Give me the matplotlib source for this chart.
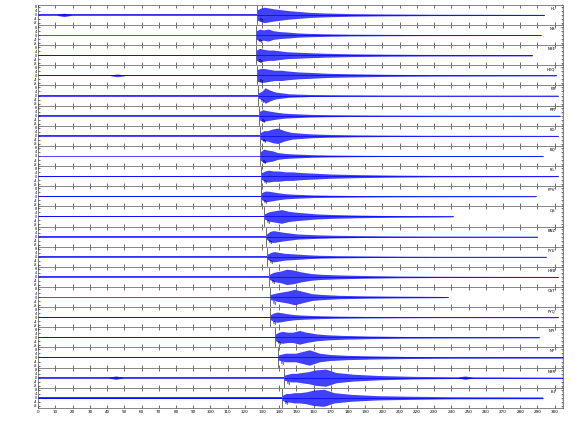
"""Record section: 20 vertical-component traces aligned on origin time."""
import numpy as np
import matplotlib.pyplot as plt

# --- data ---
stations = ["HL", "NB", "NBE", "HYQ", "PB", "RPI", "BG", "BQ", "FIL", "PPV",
            "QS", "BNZ", "PYU", "HBB", "CST", "PYQ", "NPI", "NP", "NBR", "ISI"]
onset = [127.3, 126.7, 126.7, 127.3, 127.9, 128.5, 129.1, 129.1, 129.7, 129.7,
         131.4, 132.6, 133.1, 134.3, 134.9, 134.9, 137.8, 139.5, 143.0, 141.9]
end_time = [294, 292, 287, 301, 302, 303, 302, 293, 302, 289,
            241, 290, 295, 302, 238, 302, 291, 305, 305, 293]
noise = [0.6, 0.5, 0.8, 0.6, 0.5, 0.5, 0.5, 0.5, 0.6, 0.5,
         0.5, 0.5, 0.5, 0.5, 0.5, 0.6, 0.6, 0.8, 0.6, 1.0]

# envelope after onset (seconds after onset / amplitude)
env_rel = [0, 2, 4, 7, 10, 14, 18, 24, 30, 40, 55, 75, 100]
env_amp = [
    [6, 8, 9, 8, 7, 6, 5, 4, 3, 2.2, 1.5, 1.1, 0.8],
    [5, 7, 6, 7, 5, 4, 3.5, 2.5, 2, 1.5, 1, 0.8, 0.6],
    [6, 8, 7, 6, 6, 5, 4, 3.5, 3, 2.3, 1.6, 1.2, 0.9],
    [7, 8, 8, 7, 6, 6, 5, 4, 3.5, 2.5, 1.8, 1.2, 0.9],
    [3, 5, 9, 6, 4, 3, 2, 1.6, 1.2, 1, 0.8, 0.6, 0.5],
    [5, 7, 6, 5, 4, 3, 2.5, 2, 1.5, 1.2, 0.9, 0.7, 0.6],
    [4, 6, 6, 8, 9, 6, 4, 3, 2.2, 1.6, 1.1, 0.8, 0.6],
    [5, 8, 7, 6, 4, 3, 2.5, 2, 1.5, 1.1, 0.8, 0.6, 0.5],
    [4, 6, 7, 6, 6, 5, 5, 4, 3.5, 2.5, 1.8, 1.2, 0.8],
    [4, 6, 6, 5, 4, 3, 2.5, 2, 1.5, 1.2, 0.9, 0.7, 0.6],
    [3, 5, 6, 7, 8, 6, 5, 4, 3, 2.2, 1.5, 1, 0.7],
    [3, 6, 7, 6, 5, 4, 3, 2.5, 2, 1.5, 1.1, 0.8, 0.6],
    [3, 5, 6, 5, 4, 3.5, 3, 2.2, 1.7, 1.3, 1, 0.7, 0.5],
    [3, 5, 6, 7, 9, 8, 6, 4, 3, 2.3, 1.6, 1, 0.7],
    [3, 4, 5, 6, 7, 9, 7, 4, 3, 2, 1.4, 1, 0.7],
    [3, 5, 6, 5, 4, 3, 2.5, 2, 1.6, 1.2, 0.9, 0.7, 0.5],
    [4, 6, 7, 6, 6, 8, 6, 4, 3, 2.2, 1.5, 1, 0.8],
    [3, 4, 5, 5, 5, 7, 9, 5, 3.5, 2.5, 1.8, 1.2, 0.9],
    [3, 4, 5, 5, 6, 7, 9, 10, 6, 4, 2.5, 1.5, 1],
    [3, 5, 5, 6, 6, 7, 9, 10, 6, 4, 2.5, 1.8, 1.2],
]

# small bursts in the noise: (trace, time, amplitude)
bursts = [(0, 15, 2.0), (3, 46, 1.6), (18, 45, 2.0), (18, 248, 2.0)]

gain = 0.85
blue = "#0000ff"

fig, axes = plt.subplots(len(stations), 1, figsize=(5.8, 4.4), dpi=100, sharex=True)
fig.subplots_adjust(left=0.066, right=0.971, top=0.989, bottom=0.073, hspace=0)

for i, ax in enumerate(axes):
    t0 = onset[i]
    n = noise[i] * gain
    # pre-event noise
    ax.fill_between([0, t0], [-n, -n], [n, n], color=blue, lw=0, alpha=0.8)
    # signal envelope
    t = [t0 + r for r in env_rel] + [end_time[i]]
    a = np.array(env_amp[i] + [noise[i]]) * gain
    ax.fill_between(t, -a, a, color=blue, lw=0, alpha=0.75)
    ax.plot([0, end_time[i]], [0, 0], color=blue, lw=0.5)
    for k, tb, ab in bursts:
        if k == i:
            ax.fill_between([tb - 4, tb, tb + 4], [-n, -ab * gain, -n],
                            [n, ab * gain, n], color=blue, lw=0, alpha=0.7)
    # onset pick
    ax.axvline(t0, ymin=0.05, ymax=0.95, color="#333333", lw=0.5)
    ax.text(t0 + 1.5, -5.5, "Pg", fontsize=2.5, color="k", va="center")
    ax.text(0.985, 0.8, stations[i], transform=ax.transAxes, fontsize=2.8,
            ha="right", va="center")

    ax.set_xlim(0, 305)
    ax.set_ylim(-10, 10)
    ax.set_yticks([-8, -4, 0, 4, 8])
    ax.set_yticklabels(["-8", "-4", "0", "4", "8"], fontsize=2.5)
    ax.set_xticks(np.arange(0, 301, 10))
    ax.tick_params(axis="x", direction="in", length=2, width=0.4, top=True,
                   labelsize=3, pad=1.5)
    ax.tick_params(axis="y", direction="in", length=1.5, width=0.4, right=True,
                   pad=1)
    ax.set_yticks(np.arange(-10, 11, 2), minor=True)
    ax.tick_params(axis="y", which="minor", direction="in", length=1,
                   width=0.3, left=False, right=True)
    for s in ax.spines.values():
        s.set_linewidth(0.5)
        s.set_color("#555555")

fig.savefig("out.png", dpi=100)
